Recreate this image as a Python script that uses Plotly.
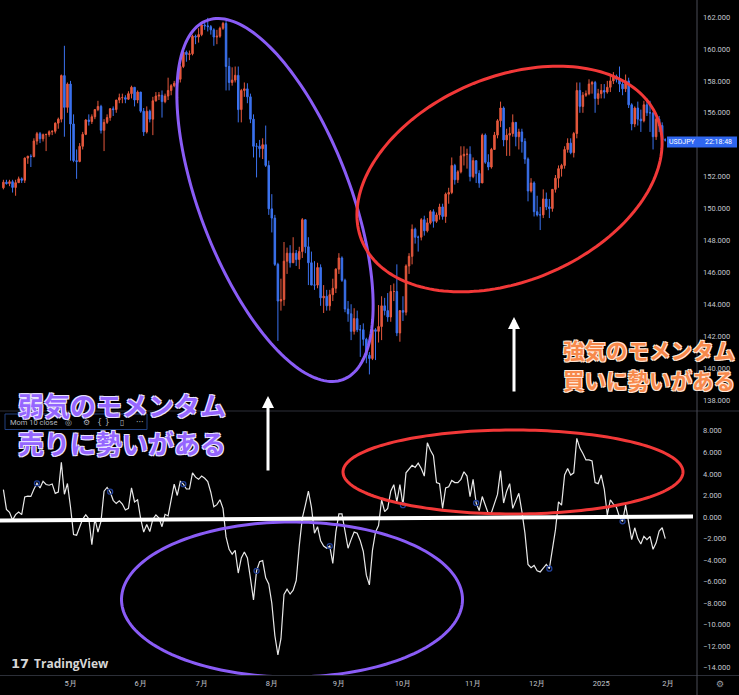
import numpy as np
import pandas as pd
import plotly.graph_objects as go

# ---------------- data (USDJPY daily) ----------------
HOLIDAYS = ["2024-12-25", "2025-01-01"]
calendar = [d for d in pd.bdate_range("2024-04-01", "2025-02-28")
            if d.strftime("%Y-%m-%d") not in HOLIDAYS]

opens = [
    # Apr
    151.30, 151.65, 151.56, 151.68, 151.32, 151.62, 151.86, 151.77, 153.16, 153.28, 153.26,
    154.23, 154.69, 154.37, 154.63, 154.64, 154.81, 154.84, 155.35, 155.60, 158.33, 156.34,
    # May
    157.80, 155.30, 153.00, 152.95, 153.90, 154.65, 155.55, 155.45, 155.75, 156.20, 156.40,
    154.90, 155.40, 155.70, 156.25, 156.20, 156.80, 156.95, 156.95, 156.85, 157.20, 157.60, 156.80,
    # Jun
    157.30, 156.10, 154.80, 156.10, 155.60, 156.75, 157.05, 157.10, 156.70, 157.05,
    157.40, 157.70, 157.85, 158.10, 158.90, 159.80, 159.65, 159.70, 160.80, 160.75,
    # Jul
    160.90, 161.50, 161.45, 161.40, 161.20, 160.75, 160.80, 161.30, 161.60, 158.90, 157.90,
    158.05, 158.35, 156.20, 157.40, 157.50, 157.00, 155.60, 153.90, 153.90, 153.75, 154.00, 152.70,
    # Aug
    149.98, 149.40, 146.50, 144.20, 144.30, 146.70, 147.20, 146.60, 147.20, 146.80, 147.30,
    149.30, 147.60, 146.60, 145.20, 145.20, 146.30, 144.40, 144.50, 143.90, 144.60, 145.00,
    # Sep
    146.20, 146.90, 145.50, 143.70, 143.40, 142.30, 143.10, 142.40, 142.40, 141.80, 140.80,
    140.60, 142.40, 142.30, 142.60, 143.90, 143.60, 143.20, 144.80, 144.80, 142.20,
    # Oct
    143.60, 143.50, 146.40, 147.00, 148.70, 148.20, 148.20, 149.30, 148.60, 149.10, 149.80,
    149.20, 149.60, 150.10, 149.50, 150.90, 151.00, 152.70, 151.80, 152.30, 153.30, 153.40, 153.40,
    # Nov
    152.00, 153.00, 152.20, 151.60, 154.60, 152.90, 152.60, 153.70, 154.60, 155.50, 156.30,
    154.30, 154.60, 154.70, 155.40, 154.50, 154.80, 154.20, 153.10, 151.10, 151.60,
    # Dec
    149.80, 149.60, 149.60, 150.60, 150.10, 150.00, 151.20, 151.90, 152.50, 152.70, 153.70,
    154.10, 153.50, 154.70, 157.40, 156.40, 157.10, 157.20, 157.80, 157.90, 156.90,
    # Jan
    157.20, 157.40, 157.30, 157.60, 158.00, 158.30, 158.10, 157.80, 157.50, 158.00, 156.50,
    155.30, 156.30, 155.60, 155.50, 156.50, 156.00, 156.00, 154.50, 155.60, 155.20, 154.30,
]
highs = [
    151.80, 151.80, 151.80, 151.80, 151.80, 152.00, 151.95, 153.20, 153.30, 153.40, 154.40,
    154.80, 154.80, 154.70, 154.70, 154.90, 154.90, 155.40, 155.70, 158.40, 160.20, 157.90,
    158.00, 155.90, 153.70, 154.10, 154.80, 155.60, 155.90, 155.90, 156.20, 156.75, 156.50,
    155.60, 155.90, 156.30, 156.40, 156.80, 157.20, 157.20, 157.10, 157.35, 157.70, 157.60, 157.40,
    157.30, 156.30, 156.40, 156.20, 157.00, 157.30, 157.30, 157.40, 157.20, 158.20,
    157.80, 158.00, 158.10, 159.00, 159.90, 159.90, 159.90, 160.90, 160.90, 161.30,
    161.70, 161.75, 161.95, 161.50, 161.30, 161.20, 161.40, 161.70, 161.75, 159.45, 158.85,
    158.90, 158.90, 157.50, 157.90, 157.85, 157.20, 155.90, 154.10, 154.30, 154.40, 155.20, 153.00,
    150.90, 149.60, 146.60, 145.60, 147.90, 147.55, 147.70, 148.20, 147.40, 147.60, 149.40,
    149.30, 148.20, 147.30, 146.70, 146.60, 146.50, 145.20, 144.90, 144.90, 145.60, 146.25,
    147.20, 147.00, 145.60, 144.20, 144.00, 143.75, 143.60, 142.70, 142.80, 141.90, 141.00,
    142.70, 142.50, 143.95, 144.50, 144.40, 144.70, 145.20, 145.30, 146.50, 143.60,
    144.50, 146.50, 147.20, 149.00, 148.80, 148.30, 149.40, 149.55, 149.40, 149.90, 149.95,
    149.75, 150.30, 150.30, 151.00, 151.30, 153.20, 152.80, 152.40, 153.90, 153.90, 153.75, 153.90,
    153.20, 153.00, 152.40, 154.70, 154.70, 153.40, 153.80, 154.80, 155.60, 156.70, 156.40,
    155.00, 155.10, 155.90, 155.40, 155.00, 155.00, 154.40, 153.20, 151.90, 151.70,
    150.80, 150.10, 151.20, 151.00, 150.60, 151.20, 152.10, 152.70, 152.80, 153.90, 154.40,
    154.40, 154.80, 157.90, 157.90, 157.30, 157.40, 158.10, 158.00, 158.00, 157.50,
    157.80, 157.80, 158.00, 158.40, 158.55, 158.40, 158.90, 158.00, 158.40, 158.20, 156.60,
    156.40, 156.70, 156.20, 156.75, 156.90, 156.75, 156.00, 155.70, 155.80, 155.40, 154.40,
]
lows = [
    151.20, 151.50, 151.40, 151.00, 150.80, 151.60, 151.60, 151.60, 152.80, 152.60, 153.20,
    154.00, 154.10, 154.20, 153.60, 154.50, 154.60, 154.70, 155.00, 155.40, 154.50, 156.00,
    153.00, 152.90, 151.86, 152.90, 153.70, 154.60, 155.20, 155.30, 155.60, 156.10, 154.70,
    153.60, 155.30, 155.50, 155.80, 156.00, 156.60, 156.60, 156.60, 156.80, 156.90, 156.40, 156.60,
    156.00, 154.55, 154.70, 155.40, 154.60, 156.70, 156.80, 155.70, 156.60, 156.80,
    157.10, 157.60, 157.70, 157.90, 158.80, 159.20, 159.30, 159.60, 160.30, 160.40,
    160.80, 161.20, 161.10, 160.90, 160.20, 160.30, 160.70, 161.20, 157.40, 157.40, 157.70,
    157.90, 155.40, 155.40, 157.00, 156.60, 155.35, 153.20, 151.95, 153.20, 153.10, 152.60, 149.60,
    148.50, 146.40, 141.70, 143.60, 143.90, 145.90, 146.30, 146.60, 146.40, 146.20, 146.90,
    147.20, 145.20, 145.20, 144.90, 145.00, 143.90, 143.45, 143.60, 143.60, 144.20, 144.70,
    145.90, 145.40, 143.50, 142.90, 141.75, 142.10, 142.25, 140.70, 141.40, 140.30, 139.60,
    140.50, 140.50, 141.60, 141.75, 143.30, 142.90, 142.90, 144.20, 142.00, 141.65,
    142.95, 143.30, 145.90, 146.50, 147.80, 147.30, 148.00, 148.30, 148.50, 149.00, 148.80,
    149.10, 149.30, 149.30, 149.10, 150.30, 150.90, 151.50, 151.60, 152.20, 152.70, 152.50, 151.70,
    151.90, 151.60, 151.30, 151.60, 152.80, 152.40, 152.50, 153.70, 154.40, 155.10, 153.90,
    153.30, 153.30, 154.50, 153.90, 153.70, 153.50, 152.80, 150.45, 151.00, 149.50,
    149.50, 148.65, 149.40, 149.90, 149.40, 149.80, 151.00, 151.30, 152.00, 152.50, 153.50,
    153.40, 153.20, 154.40, 156.00, 156.00, 157.00, 157.10, 157.20, 156.00, 156.50,
    156.90, 156.90, 157.20, 157.30, 157.80, 157.90, 157.30, 157.10, 157.30, 156.30, 154.90,
    155.10, 155.20, 154.80, 155.40, 155.80, 154.80, 153.70, 154.30, 154.80, 153.80, 154.20,
]
closes = [
    151.65, 151.56, 151.68, 151.32, 151.62, 151.86, 151.77, 153.16, 153.28, 153.26, 154.23,
    154.69, 154.37, 154.63, 154.64, 154.81, 154.84, 155.35, 155.60, 158.33, 156.34, 157.80,
    155.30, 153.00, 152.95, 153.90, 154.65, 155.55, 155.45, 155.75, 156.20, 156.40, 154.90,
    155.40, 155.70, 156.25, 156.20, 156.80, 156.95, 156.95, 156.85, 157.20, 157.60, 156.80, 157.30,
    156.10, 154.80, 156.10, 155.60, 156.75, 157.05, 157.10, 156.70, 157.05, 157.40,
    157.70, 157.85, 158.10, 158.90, 159.80, 159.65, 159.70, 160.80, 160.75, 160.90,
    161.50, 161.45, 161.40, 161.20, 160.75, 160.80, 161.30, 161.60, 158.90, 157.90, 158.05,
    158.35, 156.20, 157.40, 157.50, 157.00, 155.60, 153.90, 153.90, 153.75, 154.00, 152.70, 149.98,
    149.40, 146.50, 144.20, 144.30, 146.70, 147.20, 146.60, 147.20, 146.80, 147.30, 149.30,
    147.60, 146.60, 145.20, 145.20, 146.30, 144.40, 144.50, 143.90, 144.60, 145.00, 146.20,
    146.90, 145.50, 143.70, 143.40, 142.30, 143.10, 142.40, 142.40, 141.80, 140.80, 140.60,
    142.40, 142.30, 142.60, 143.90, 143.60, 143.20, 144.80, 144.80, 142.20, 143.60,
    143.50, 146.40, 147.00, 148.70, 148.20, 148.20, 149.30, 148.60, 149.10, 149.80, 149.20,
    149.60, 150.10, 149.50, 150.90, 151.00, 152.70, 151.80, 152.30, 153.30, 153.40, 153.40, 152.00,
    153.00, 152.20, 151.60, 154.60, 152.90, 152.60, 153.70, 154.60, 155.50, 156.30, 154.30,
    154.60, 154.70, 155.40, 154.50, 154.80, 154.20, 153.10, 151.10, 151.60, 149.80,
    149.60, 149.60, 150.60, 150.10, 150.00, 151.20, 151.90, 152.50, 152.70, 153.70, 154.10,
    153.50, 154.70, 157.40, 156.40, 157.10, 157.20, 157.80, 157.90, 156.90, 157.20,
    157.40, 157.30, 157.60, 158.00, 158.30, 158.10, 157.80, 157.50, 158.00, 156.50, 155.30,
    156.30, 155.60, 155.50, 156.50, 156.00, 156.00, 154.50, 155.60, 155.20, 154.30, 154.30,
]
# ten closes before 2024-04-01 (needed by Mom 10)
pre_closes = [149.10, 150.85, 151.25, 151.60, 151.40, 151.40, 151.55, 151.30, 151.35, 151.35]
MOM_LEN = 10
mom_marker_bars = [11, 35, 59, 83, 107, 131, 155, 179, 203]

month_starts = ["2024-04-01", "2024-05-01", "2024-06-03", "2024-07-01", "2024-08-01",
                "2024-09-02", "2024-10-01", "2024-11-01", "2024-12-02", "2025-01-02", "2025-02-03"]
month_labels = ["4月", "5月", "6月", "7月", "8月", "9月", "10月", "11月", "12月", "2025", "2月"]
price_ticks = list(range(138, 163, 2))
mom_ticks = list(range(-14, 9, 2))

# ---------------- derived ----------------
N = len(closes)
bar = list(range(N))
cal_str = [d.strftime("%Y-%m-%d") for d in calendar]
tick_pos = [cal_str.index(s) for s in month_starts]
hover_dates = cal_str[:N]
all_close = pre_closes + closes
mom = [round(all_close[i + MOM_LEN] - all_close[i], 3) for i in range(N)]  # Mom(10, close)

# ---------------- geometry helpers ----------------
W, H = 739, 695
PL, PR, PT, PB = 0, 697, 0, 675          # plot area in pixels
BAR0, BARW = 3.4, 3.05                   # px of bar 0, px per bar
TOP_BOT = 410                            # bottom of price pane
BOT_TOP = 412                            # top of momentum pane
Y1R = [137.37, 163.07]
Y2R = [-14.67, 9.75]
XR = [(PL - BAR0) / BARW, (PR - BAR0) / BARW]

def PX(px): return px / PR
def PY(py): return 1 - py / PB
def DX(px): return (px - BAR0) / BARW
def DY1(py): return Y1R[1] - py * (Y1R[1] - Y1R[0]) / TOP_BOT
def DY2(py): return Y2R[1] - (py - BOT_TOP) * (Y2R[1] - Y2R[0]) / (PB - BOT_TOP)

def ellipse_path(cx, cy, a, b, deg, fy, n=180):
    th = np.radians(deg)
    t = np.linspace(0, 2 * np.pi, n)
    xs = cx + a * np.cos(t) * np.cos(th) - b * np.sin(t) * np.sin(th)
    ys = cy + a * np.cos(t) * np.sin(th) + b * np.sin(t) * np.cos(th)
    pts = [f"{DX(x):.4f},{fy(y):.4f}" for x, y in zip(xs, ys)]
    return "M " + " L ".join(pts) + " Z"

UP = "#e5583d"
DOWN = "#3b72ee"
PURPLE = "#8a5cf6"
RED = "#f23838"
AXIS_TXT = "#c3c6ce"
FONT = "Roboto, 'Liberation Sans', sans-serif"
JP = "'Noto Sans CJK JP', sans-serif"

fig = go.Figure()
fig.add_trace(go.Candlestick(
    x=bar, open=opens, high=highs, low=lows, close=closes, text=hover_dates,
    increasing=dict(line=dict(color=UP, width=1), fillcolor=UP),
    decreasing=dict(line=dict(color=DOWN, width=1), fillcolor=DOWN),
    whiskerwidth=0, xaxis="x", yaxis="y", showlegend=False, hoverinfo="skip"))
fig.add_trace(go.Scatter(
    x=bar, y=mom, mode="lines", line=dict(color="#e8e8e8", width=1.2),
    xaxis="x2", yaxis="y2", showlegend=False, hoverinfo="skip"))
fig.add_trace(go.Scatter(
    x=[bar[i] for i in mom_marker_bars], y=[mom[i] for i in mom_marker_bars],
    mode="markers", marker=dict(symbol="circle-open", size=5, color="#22409a", line=dict(width=1.3)),
    xaxis="x2", yaxis="y2", showlegend=False, hoverinfo="skip"))

shapes = [
    # pane separators / axis border
    dict(type="line", xref="paper", yref="paper", x0=0, x1=W / PR, y0=PY(411), y1=PY(411),
         line=dict(color="#2c2f38", width=1)),
    dict(type="line", xref="paper", yref="paper", x0=0, x1=W / PR, y0=PY(675.5), y1=PY(675.5),
         line=dict(color="#2c2f38", width=1)),
    dict(type="line", xref="paper", yref="paper", x0=1, x1=1, y0=PY(H), y1=1,
         line=dict(color="#4a4d57", width=1)),
    # user drawings
    dict(type="path", xref="x", yref="y", path=ellipse_path(275, 200, 192, 75.5, 69.2, DY1),
         line=dict(color=PURPLE, width=3), layer="above"),
    dict(type="path", xref="x", yref="y", path=ellipse_path(509.5, 179, 160, 102, -23, DY1),
         line=dict(color=RED, width=3), layer="above"),
    dict(type="path", xref="x2", yref="y2", path=ellipse_path(513, 472, 170, 42, 0, DY2),
         line=dict(color=RED, width=3), layer="above"),
    dict(type="path", xref="x2", yref="y2", path=ellipse_path(292, 599.5, 170.5, 77.5, 0, DY2),
         line=dict(color=PURPLE, width=3), layer="above"),
    dict(type="line", xref="x2", yref="y2", x0=DX(0), x1=DX(693), y0=DY2(520.5), y1=DY2(516.5),
         line=dict(color="#ffffff", width=4), layer="above"),
    # symbol label box on price axis
    dict(type="rect", xref="paper", yref="paper", x0=PX(667), x1=PX(737), y0=PY(147.5), y1=PY(136.5),
         fillcolor="#2f66ef", line=dict(width=0), layer="above"),
    # indicator legend box
    dict(type="rect", xref="paper", yref="paper", x0=PX(5), x1=PX(147), y0=PY(429.5), y1=PY(414),
         fillcolor="#000000", line=dict(color="#22407f", width=1), layer="above"),
]

def txt(text, px, py, size, color, xanchor="left", family=FONT, shadow=None, weight=None):
    f = dict(family=family, size=size, color=color)
    if shadow:
        f["shadow"] = shadow
    if weight:
        f["weight"] = weight
    return dict(text=text, x=PX(px), y=PY(py), xref="paper", yref="paper", showarrow=False,
                xanchor=xanchor, yanchor="middle", font=f)

outline_p = "1px 1px 0 #e9e2ff, -1px -1px 0 #e9e2ff, 1px -1px 0 #e9e2ff, -1px 1px 0 #e9e2ff"
outline_o = "1px 1px 0 #ffe6d6, -1px -1px 0 #ffe6d6, 1px -1px 0 #ffe6d6, -1px 1px 0 #ffe6d6"

annotations = [
    txt("USDJPY", 682, 142, 7, "#ffffff", xanchor="center"),
    txt("22:18:48", 718.5, 142, 7, "#ffffff", xanchor="center"),
    txt("Mom 10 close", 8, 422, 7.5, "#b2b5be"),
    txt("◎", 68, 422, 8, "#b2b5be", xanchor="center", family="DejaVu Sans"),
    txt("⚙", 86, 422, 8, "#b2b5be", xanchor="center", family="DejaVu Sans"),
    txt("{ }", 103, 422, 8, "#b2b5be", xanchor="center", family="DejaVu Sans"),
    txt("▯", 122, 422, 8, "#b2b5be", xanchor="center", family="DejaVu Sans"),
    txt("···", 140, 422, 8, "#b2b5be", xanchor="center", family="DejaVu Sans"),
    txt("<b>弱気のモメンタム</b>", 16, 404, 26, "#9566ff", family=JP, shadow=outline_p),
    txt("<b>売りに勢いがある</b>", 16, 442, 26, "#9566ff", family=JP, shadow=outline_p),
    txt("<b>強気のモメンタム</b>", 561, 349, 21.5, "#f7894b", family=JP, shadow=outline_o),
    txt("<b>買いに勢いがある</b>", 561, 379, 21.5, "#f7894b", family=JP, shadow=outline_o),
    txt("<b>17</b>", 9, 663, 13, "#d6d6d6", family="DejaVu Sans"),
    txt("<b>TradingView</b>", 32, 663, 12, "#d6d6d6", family="'Open Sans', sans-serif"),
    txt("⚙", 720, 684, 9, "#9a9ca3", xanchor="center", family="DejaVu Sans"),
    # arrows
    dict(x=PX(268), y=PY(396), xref="paper", yref="paper", ax=0, ay=76, showarrow=True,
         arrowhead=2, arrowsize=0.8, arrowwidth=3, arrowcolor="#ffffff", text=""),
    dict(x=PX(514), y=PY(317), xref="paper", yref="paper", ax=0, ay=76, showarrow=True,
         arrowhead=2, arrowsize=0.8, arrowwidth=3, arrowcolor="#ffffff", text=""),
]

fig.update_layout(
    width=W, height=H, margin=dict(l=PL, r=W - PR, t=PT, b=H - PB, pad=0),
    paper_bgcolor="#000000", plot_bgcolor="#000000", showlegend=False,
    font=dict(family=FONT, size=7.5, color=AXIS_TXT),
    xaxis=dict(domain=[0, 1], range=XR, anchor="y", showticklabels=False, showgrid=False,
               zeroline=False, showline=False, ticks="", rangeslider=dict(visible=False), fixedrange=True),
    xaxis2=dict(domain=[0, 1], range=XR, anchor="y2", tickmode="array", tickvals=tick_pos,
                ticktext=month_labels, showgrid=False, zeroline=False, showline=False, ticks="",
                tickfont=dict(size=7.5, color=AXIS_TXT), ticklabelstandoff=2),
    yaxis=dict(domain=[1 - TOP_BOT / PB, 1], range=Y1R, anchor="x", side="right",
               tickmode="array", tickvals=price_ticks, tickformat=".3f", showgrid=False,
               zeroline=False, showline=False, ticks="", ticklabelstandoff=5,
               tickfont=dict(size=7.5, color=AXIS_TXT)),
    yaxis2=dict(domain=[0, 1 - BOT_TOP / PB], range=Y2R, anchor="x2", side="right",
                tickmode="array", tickvals=mom_ticks, tickformat=".3f", showgrid=False,
                zeroline=False, showline=False, ticks="", ticklabelstandoff=5,
                tickfont=dict(size=7.5, color=AXIS_TXT)),
    shapes=shapes, annotations=annotations,
)

fig.write_html(
    "out.html",
    config={"displayModeBar": False},
    post_script="document.body.style.margin='0px';document.body.style.padding='0px';"
                "document.body.style.background='#000';document.documentElement.style.overflow='hidden';",
)
